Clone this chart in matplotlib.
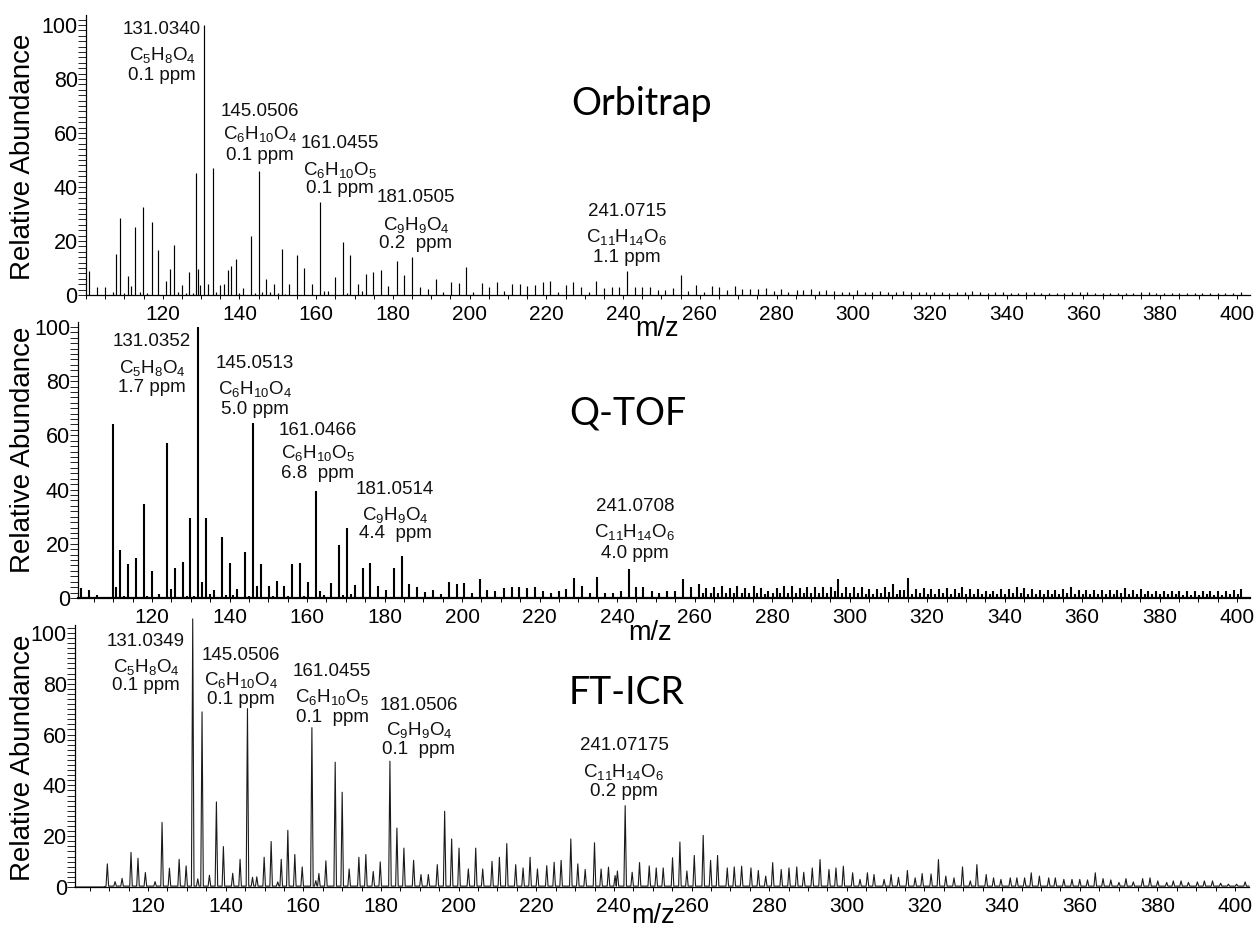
import matplotlib
matplotlib.use("Agg")
import matplotlib.pyplot as plt
from matplotlib.ticker import FixedLocator, MultipleLocator

# ---------------- DATA ----------------
# Orbitrap (stick spectrum)
orbi_mz = [100.8, 102.9, 105.0, 107.0, 107.9, 108.9, 110.0, 111.0, 111.7, 112.9, 114.0, 114.9, 116.0,
           117.1, 118.8, 120.9, 122.0, 122.9, 124.0, 124.9, 126.0, 126.9, 128.0, 128.8, 129.2, 129.8,
           130.8, 131.9, 133.0, 134.0, 134.9, 136.0, 136.9, 137.9, 139.0, 140.0, 140.8, 142.9, 144.0,
           145.0, 146.0, 146.9, 148.0, 148.9, 150.0, 151.0, 152.0, 152.8, 154.9, 156.9, 158.9, 161.0,
           162.0, 163.0, 164.9, 166.9, 168.0, 168.8, 171.0, 172.0, 173.0, 174.9, 176.9, 178.8, 181.0,
           183.0, 184.9, 187.1, 189.1, 191.2, 193.1, 195.1, 197.1, 199.0, 201.0, 203.1, 205.0, 207.1,
           209.0, 211.0, 213.0, 215.0, 217.1, 219.1, 221.0, 223.0, 225.0, 226.9, 229.0, 231.0, 233.0,
           234.9, 237.0, 239.0, 241.0, 243.1, 245.0, 247.0, 249.0, 251.0, 253.1, 255.0, 257.0, 259.1,
           261.0, 263.1, 265.1, 267.1, 269.2, 271.1, 273.1, 275.1, 277.2, 279.2, 281.2, 283.1, 285.2,
           287.0, 289.0, 291.0, 293.0, 295.0, 297.0, 299.0, 301.0, 303.0, 305.0, 307.0, 309.0, 311.0,
           313.0, 315.0, 317.0, 319.0, 321.0, 323.0, 325.0, 327.0, 329.0, 331.0, 333.0, 335.0, 337.0,
           339.0, 341.0, 343.0, 345.0, 347.0, 349.0, 351.0, 353.0, 355.0, 357.0, 359.0, 361.0, 363.0,
           365.0, 367.0, 369.0, 371.0, 373.0, 375.0, 377.0, 379.0, 381.0, 383.0, 385.0, 387.0, 389.0,
           391.0, 393.0, 395.0, 397.0, 399.0, 401.0]
orbi_int = [9.0, 2.8, 3.0, 1.0, 15.0, 28.5, 0.8, 7.0, 3.3, 25.0, 1.0, 32.5, 0.8,
            27.0, 16.5, 5.0, 9.7, 18.5, 1.0, 3.7, 0.8, 8.7, 0.8, 45.2, 9.5, 3.6,
            100.0, 4.2, 47.0, 1.2, 3.7, 4.0, 9.1, 10.7, 13.2, 0.8, 2.5, 22.0, 0.6,
            46.0, 1.0, 6.0, 1.0, 4.1, 0.8, 17.0, 0.5, 4.1, 14.8, 10.1, 4.1, 34.6,
            1.5, 1.6, 6.5, 19.8, 0.6, 14.8, 4.0, 1.5, 7.7, 8.6, 9.3, 3.3, 12.5,
            7.4, 14.0, 2.8, 2.4, 5.8, 1.0, 4.9, 4.3, 10.2, 1.2, 4.6, 2.8, 4.7,
            1.5, 4.1, 4.1, 3.4, 3.8, 4.7, 5.3, 1.2, 3.8, 4.7, 2.8, 1.2, 5.3,
            2.7, 3.1, 2.8, 8.8, 3.1, 2.8, 3.1, 1.8, 1.8, 2.6, 7.5, 1.5, 3.6,
            1.2, 3.4, 3.1, 2.0, 3.4, 2.2, 2.2, 2.2, 2.7, 1.6, 2.1, 1.2, 1.8,
            1.9, 2.2, 1.4, 1.8, 1.4, 1.0, 1.2, 1.8, 1.1, 1.0, 1.5, 1.1, 1.0,
            1.4, 1.1, 1.1, 1.1, 1.0, 1.0, 0.9, 1.1, 1.0, 1.4, 1.0, 0.9, 1.0,
            1.0, 0.9, 0.9, 1.0, 1.0, 0.9, 0.9, 0.9, 0.9, 1.0, 1.0, 1.1, 0.9,
            0.9, 0.9, 0.9, 0.9, 0.9, 1.0, 1.1, 0.9, 0.9, 0.9, 0.9, 0.9, 0.9,
            0.8, 0.8, 0.8, 0.8, 0.8, 1.2]

# Q-TOF (stick spectrum)
qtof_mz = [101.7, 103.7, 105.7, 108.5, 109.8, 110.8, 111.7, 112.8, 113.7, 114.8, 115.8, 116.8, 117.8,
           118.8, 119.9, 121.8, 123.9, 124.8, 125.9, 126.9, 127.9, 128.9, 129.9, 130.9, 131.9, 133.0,
           133.9, 135.0, 136.0, 138.0, 139.0, 140.1, 141.0, 142.0, 144.1, 145.1, 146.1, 147.1, 148.0,
           150.2, 151.2, 152.2, 154.1, 155.1, 156.2, 158.2, 159.2, 160.3, 162.2, 163.3, 164.3, 166.3,
           167.3, 168.3, 169.3, 170.2, 171.3, 172.3, 174.4, 176.3, 178.4, 180.4, 182.4, 184.4, 186.4,
           188.3, 190.4, 192.6, 194.5, 196.6, 198.6, 200.6, 202.5, 204.6, 206.5, 208.5, 210.7, 212.8,
           214.8, 216.7, 218.8, 220.8, 222.9, 224.9, 226.8, 228.9, 230.9, 232.9, 234.9, 236.9, 239.0,
           241.0, 243.0, 244.9, 246.8, 248.9, 250.9, 253.0, 255.0, 257.1, 259.1, 261.1, 263.0, 265.0,
           267.0, 269.0, 271.0, 273.0, 275.2, 277.1, 279.0, 281.2, 283.1, 285.1, 287.2, 289.1, 291.1,
           293.1, 295.1, 297.1, 299.1, 301.1, 303.1, 305.1, 307.1, 309.1, 311.1, 313.1, 315.1, 317.1,
           319.1, 321.1, 323.1, 325.1, 327.1, 329.1, 331.1, 333.1, 335.1, 337.1, 339.1, 341.1, 343.1,
           345.1, 347.1, 349.1, 351.1, 353.1, 355.1, 357.1, 359.1, 361.1, 363.1, 365.1, 367.1, 369.1,
           371.1, 373.1, 375.1, 377.1, 379.1, 381.1, 383.1, 385.1, 387.1, 389.1, 391.1, 393.1, 395.1,
           397.1, 399.1, 401.1]
qtof_int = [3.6, 2.9, 1.2, 0.5, 64.3, 3.9, 17.7, 0.8, 12.5, 0.5, 14.6, 0.5, 34.7,
            0.8, 10.0, 1.5, 57.2, 3.5, 11.2, 0.5, 13.3, 0.8, 29.5, 0.8, 100.0, 5.9,
            29.5, 1.5, 3.0, 22.6, 1.2, 13.0, 1.2, 3.5, 16.8, 0.8, 64.6, 4.4, 12.7,
            4.4, 0.8, 6.3, 4.4, 0.8, 12.5, 12.8, 0.8, 5.8, 39.6, 2.6, 1.2, 5.4,
            0.5, 19.5, 1.0, 25.7, 1.5, 4.9, 11.2, 13.0, 4.4, 3.0, 11.0, 15.5, 5.3,
            4.2, 2.2, 2.8, 1.6, 5.8, 5.2, 5.6, 1.9, 7.1, 3.0, 2.5, 3.7, 4.0,
            4.2, 3.7, 4.2, 2.5, 1.9, 2.5, 3.3, 7.5, 4.6, 1.9, 7.9, 1.9, 1.9,
            2.5, 10.7, 4.1, 4.1, 2.5, 1.9, 2.5, 2.5, 7.0, 4.1, 5.0, 3.7, 4.1,
            4.4, 3.8, 4.4, 3.6, 4.4, 3.6, 2.5, 3.8, 4.4, 4.4, 3.8, 4.2, 3.9,
            4.2, 4.2, 6.9, 3.9, 4.2, 3.9, 3.2, 3.2, 3.9, 5.3, 2.9, 7.5, 3.2,
            3.6, 3.2, 3.2, 3.6, 3.2, 4.2, 3.2, 3.2, 2.7, 2.7, 3.2, 3.2, 3.9,
            3.6, 3.2, 2.9, 2.9, 2.9, 3.2, 4.2, 2.9, 2.9, 2.9, 2.9, 2.9, 2.9,
            3.6, 2.9, 3.4, 2.7, 2.7, 2.7, 2.7, 2.7, 2.5, 2.5, 2.5, 2.7, 2.5,
            2.5, 2.9, 3.4]
# Q-TOF minor (isotope) lines in the high-mass region
qtof_iso_mz = [262.1, 264.1, 266.1, 268.1, 270.1, 272.1, 274.1, 276.1, 278.1, 280.1, 282.1, 284.1,
               286.1, 288.1, 290.1, 292.1, 294.1, 296.1, 298.1, 300.1, 302.1, 304.1, 306.1, 308.1,
               310.1, 312.1, 314.1, 316.1, 318.1, 320.1, 322.1, 324.1, 326.1, 328.1, 330.1, 332.1,
               334.1, 336.1, 338.1, 340.1, 342.1, 344.1, 346.1, 348.1, 350.1, 352.1, 354.1, 356.1,
               358.1, 360.1, 362.1, 364.1, 366.1, 368.1, 370.1, 372.1, 374.1, 376.1, 378.1, 380.1,
               382.1, 384.1, 386.1, 388.1, 390.1, 392.1, 394.1, 396.1, 398.1, 400.1]
qtof_iso_int = [1.8, 1.9, 2.0, 1.8, 2.0, 1.8, 1.9, 1.8, 1.5, 1.8, 2.0, 2.0, 1.8, 1.9, 1.9, 2.0, 1.9,
                2.6, 1.8, 1.9, 1.8, 1.5, 1.5, 1.8, 2.2, 1.4, 2.8, 1.5, 1.7, 1.5, 1.5, 1.7, 1.5, 1.9,
                1.5, 1.5, 1.3, 1.3, 1.5, 1.5, 1.8, 1.7, 1.5, 1.4, 1.4, 1.4, 1.5, 1.9, 1.4, 1.4, 1.4,
                1.4, 1.4, 1.4, 1.7, 1.4, 1.6, 1.3, 1.3, 1.3, 1.3, 1.3, 1.2, 1.2, 1.2, 1.3, 1.2, 1.2,
                1.4, 1.5]

# FT-ICR (profile spectrum, peak apexes)
fticr_mz = [109.5, 111.5, 113.3, 115.6, 117.4, 119.3, 121.8, 123.6, 125.5, 128.0, 129.8, 131.5, 132.8,
            133.9, 135.8, 137.6, 139.4, 141.8, 143.7, 145.6, 146.9, 148.0, 149.9, 151.7, 153.4, 154.3,
            156.0, 157.8, 159.7, 162.2, 163.2, 164.0, 165.8, 168.2, 170.0, 171.8, 174.3, 176.1, 178.0,
            179.8, 182.3, 184.1, 185.9, 188.4, 190.3, 192.2, 194.5, 196.4, 198.2, 200.1, 202.5, 204.4,
            206.2, 208.6, 210.5, 212.4, 214.7, 216.6, 218.4, 220.3, 222.7, 224.6, 226.4, 228.9, 230.7,
            232.6, 235.0, 236.7, 238.6, 240.3, 240.9, 242.9, 244.7, 246.6, 249.1, 250.9, 252.7, 255.1,
            257.0, 258.8, 260.7, 263.0, 264.9, 266.7, 269.2, 271.0, 272.9, 275.3, 277.2, 279.1, 280.9,
            283.1, 285.1, 287.1, 288.9, 291.1, 293.1, 295.4, 297.2, 299.1, 301.5, 303.4, 305.3, 307.0,
            309.6, 311.4, 313.3, 315.6, 317.6, 319.4, 321.7, 323.6, 325.5, 327.6, 329.8, 331.8, 333.5,
            335.9, 337.8, 339.7, 342.1, 343.8, 345.8, 347.5, 349.6, 352.0, 353.7, 355.9, 358.0, 360.0,
            362.0, 364.0, 366.0, 368.0, 370.1, 371.9, 373.8, 376.2, 378.1, 380.1, 382.4, 384.1, 386.1,
            388.0, 390.3, 392.1, 394.2, 396.3, 398.3, 400.4, 402.6]
fticr_int = [9.1, 2.1, 3.4, 13.6, 11.3, 5.7, 2.1, 25.4, 7.4, 10.9, 8.3, 105.5, 3.2,
             68.9, 4.6, 33.5, 15.9, 5.4, 10.9, 70.2, 3.8, 4.0, 11.7, 17.9, 2.0, 10.9,
             22.3, 12.8, 7.9, 62.7, 2.5, 5.3, 10.3, 49.1, 37.3, 7.1, 11.7, 12.8, 6.1,
             9.9, 49.5, 23.2, 15.3, 10.5, 4.9, 4.9, 8.8, 29.8, 18.9, 15.3, 7.1, 15.3,
             7.1, 10.1, 11.7, 17.1, 8.8, 7.5, 11.7, 7.1, 8.4, 9.7, 10.5, 18.9, 9.1,
             6.9, 17.4, 7.1, 7.8, 4.5, 6.3, 32.0, 5.8, 9.6, 8.3, 7.5, 7.5, 11.5,
             17.7, 6.3, 12.4, 20.3, 10.5, 12.4, 7.5, 7.9, 8.2, 7.5, 6.5, 4.3, 9.6,
             6.9, 7.5, 7.9, 5.8, 7.5, 10.8, 6.9, 7.5, 8.2, 5.6, 3.0, 5.6, 4.9,
             3.0, 4.9, 3.8, 6.5, 3.6, 5.3, 5.1, 10.8, 4.3, 3.6, 7.9, 2.4, 8.8,
             4.9, 3.6, 3.0, 3.6, 3.6, 3.6, 5.6, 4.3, 3.6, 3.6, 3.0, 3.0, 3.0,
             2.8, 5.6, 3.3, 2.8, 1.8, 3.3, 2.0, 3.3, 3.6, 2.4, 1.8, 2.4, 2.4,
             1.8, 2.0, 2.4, 2.4, 1.5, 1.1, 1.1, 2.0]

# Axis ticks
x_major_ticks = [120, 140, 160, 180, 200, 220, 240, 260, 280, 300, 320, 340, 360, 380, 400]
y_major_ticks = [0, 20, 40, 60, 80, 100]

instrument_names = ["Orbitrap", "Q-TOF", "FT-ICR"]
x_label = "m/z"
y_label = "Relative Abundance"

# Peak annotations (mass, formula, error) per instrument
orbi_notes = [("131.0340", r"$\mathregular{C_5H_8O_4}$", "0.1 ppm"),
              ("145.0506", r"$\mathregular{C_6H_{10}O_4}$", "0.1 ppm"),
              ("161.0455", r"$\mathregular{C_6H_{10}O_5}$", "0.1 ppm"),
              ("181.0505", r"$\mathregular{C_9H_9O_4}$", "0.2  ppm"),
              ("241.0715", r"$\mathregular{C_{11}H_{14}O_6}$", "1.1 ppm")]
qtof_notes = [("131.0352", r"$\mathregular{C_5H_8O_4}$", "1.7 ppm"),
              ("145.0513", r"$\mathregular{C_6H_{10}O_4}$", "5.0 ppm"),
              ("161.0466", r"$\mathregular{C_6H_{10}O_5}$", "6.8  ppm"),
              ("181.0514", r"$\mathregular{C_9H_9O_4}$", "4.4  ppm"),
              ("241.0708", r"$\mathregular{C_{11}H_{14}O_6}$", "4.0 ppm")]
fticr_notes = [("131.0349", r"$\mathregular{C_5H_8O_4}$", "0.1 ppm"),
               ("145.0506", r"$\mathregular{C_6H_{10}O_4}$", "0.1 ppm"),
               ("161.0455", r"$\mathregular{C_6H_{10}O_5}$", "0.1  ppm"),
               ("181.0506", r"$\mathregular{C_9H_9O_4}$", "0.1  ppm"),
               ("241.07175", r"$\mathregular{C_{11}H_{14}O_6}$", "0.2 ppm")]

# ---------------- LAYOUT (pixels) ----------------
W, H = 1258, 932
FONT = "Liberation Sans"
plt.rcParams["font.family"] = [FONT, "DejaVu Sans"]
plt.rcParams["mathtext.default"] = "regular"

fig = plt.figure(figsize=(W / 100, H / 100), dpi=100)

# axes: (left_px, right_px, zero_px, top_px, xmin, xmax, ymax)
panel_geom = [
    (86.0, 1250.0, 295.0, 15.0, 100.0, 403.4, 103.7),
    (78.4, 1250.0, 598.0, 322.0, 101.0, 403.3, 101.8),
    (75.1, 1249.0, 887.0, 625.0, 101.2, 403.6, 103.1),
]
# annotation centre pixel positions per panel: per note, (x, y_mass, y_formula, y_ppm)
note_pos = [
    [(162, 29, 55, 75), (260, 111, 134, 156), (340, 144, 170, 189), (416, 197, 225, 243), (627, 212, 237, 258)],
    [(152, 342, 368, 387), (255, 364, 389, 410), (318, 431, 453, 474), (395, 489, 515, 533), (635, 507, 532, 553)],
    [(146, 641, 667, 686), (241, 656, 680, 700), (332, 672, 697, 717), (419, 705, 730, 749), (624, 746, 772, 792)],
]
title_pos = [(642, 104), (628, 413), (627, 693)]
mz_label_pos = [(657, 329), (650, 633), (653, 916)]
ylabel_pos = [(23, 157), (23, 450), (23, 758)]


def fx(px):
    return px / W


def fy(py):
    return 1 - py / H


axes = []
for (l, r, z, t, x0, x1, y1) in panel_geom:
    ax = fig.add_axes([fx(l), fy(z), (r - l) / W, (z - t) / H])
    ax.set_xlim(x0, x1)
    ax.set_ylim(0, y1)
    ax.patch.set_visible(False)
    for s in ("top", "right"):
        ax.spines[s].set_visible(False)
    for s in ("left", "bottom"):
        ax.spines[s].set_linewidth(0.9)
    ax.xaxis.set_major_locator(FixedLocator(x_major_ticks))
    ax.xaxis.set_minor_locator(MultipleLocator(5))
    ax.yaxis.set_major_locator(FixedLocator(y_major_ticks))
    ax.yaxis.set_minor_locator(MultipleLocator(2))
    ax.tick_params(axis="x", which="both", direction="out", length=3, width=0.7,
                   labelsize=15, pad=4.5)
    ax.tick_params(axis="y", which="both", direction="out", length=5.5, width=0.6,
                   labelsize=15.5, pad=0.5)
    axes.append(ax)

ax_o, ax_q, ax_f = axes

# Orbitrap sticks
ax_o.vlines(orbi_mz, 0, orbi_int, color="black", linewidth=0.85)
# Q-TOF sticks
ax_q.vlines(qtof_mz, 0, qtof_int, color="black", linewidth=1.5)
ax_q.vlines(qtof_iso_mz, 0, qtof_iso_int, color="black", linewidth=1.5)
ax_q.spines["bottom"].set_linewidth(1.6)

# FT-ICR profile built from peak apexes
hw, base = 0.33, 0.35
prof_x = [panel_geom[2][4], fticr_mz[0] - 1.0]
prof_y = [0.0, 0.0]
for m, h in sorted(zip(fticr_mz, fticr_int)):
    prof_x += [m - hw, m, m + hw]
    prof_y += [base, h, base]
prof_x.append(panel_geom[2][5])
prof_y.append(base)
ax_f.plot(prof_x, prof_y, color="#1a1a1a", linewidth=0.8, clip_on=False)

# Texts
for notes, pos in zip([orbi_notes, qtof_notes, fticr_notes], note_pos):
    for (mass, formula, ppm), (x, ym, yf, yp) in zip(notes, pos):
        fig.text(fx(x), fy(ym), mass, ha="center", va="center", fontsize=13.5, color="#111111")
        fig.text(fx(x), fy(yf), formula, ha="center", va="center", fontsize=13.5, color="#111111")
        fig.text(fx(x), fy(yp), ppm, ha="center", va="center", fontsize=13.5, color="#111111")

for name, (x, y) in zip(instrument_names, title_pos):
    fig.text(fx(x), fy(y), name, ha="center", va="center", fontsize=27,
             family=["Lato", "DejaVu Sans"], color="black")

for (x, y) in mz_label_pos:
    fig.text(fx(x), fy(y), x_label, ha="center", va="center", fontsize=19.5)

for (x, y) in ylabel_pos:
    fig.text(fx(x), fy(y), y_label, ha="center", va="center", fontsize=20, rotation=90)

fig.savefig("out.png", dpi=100)
